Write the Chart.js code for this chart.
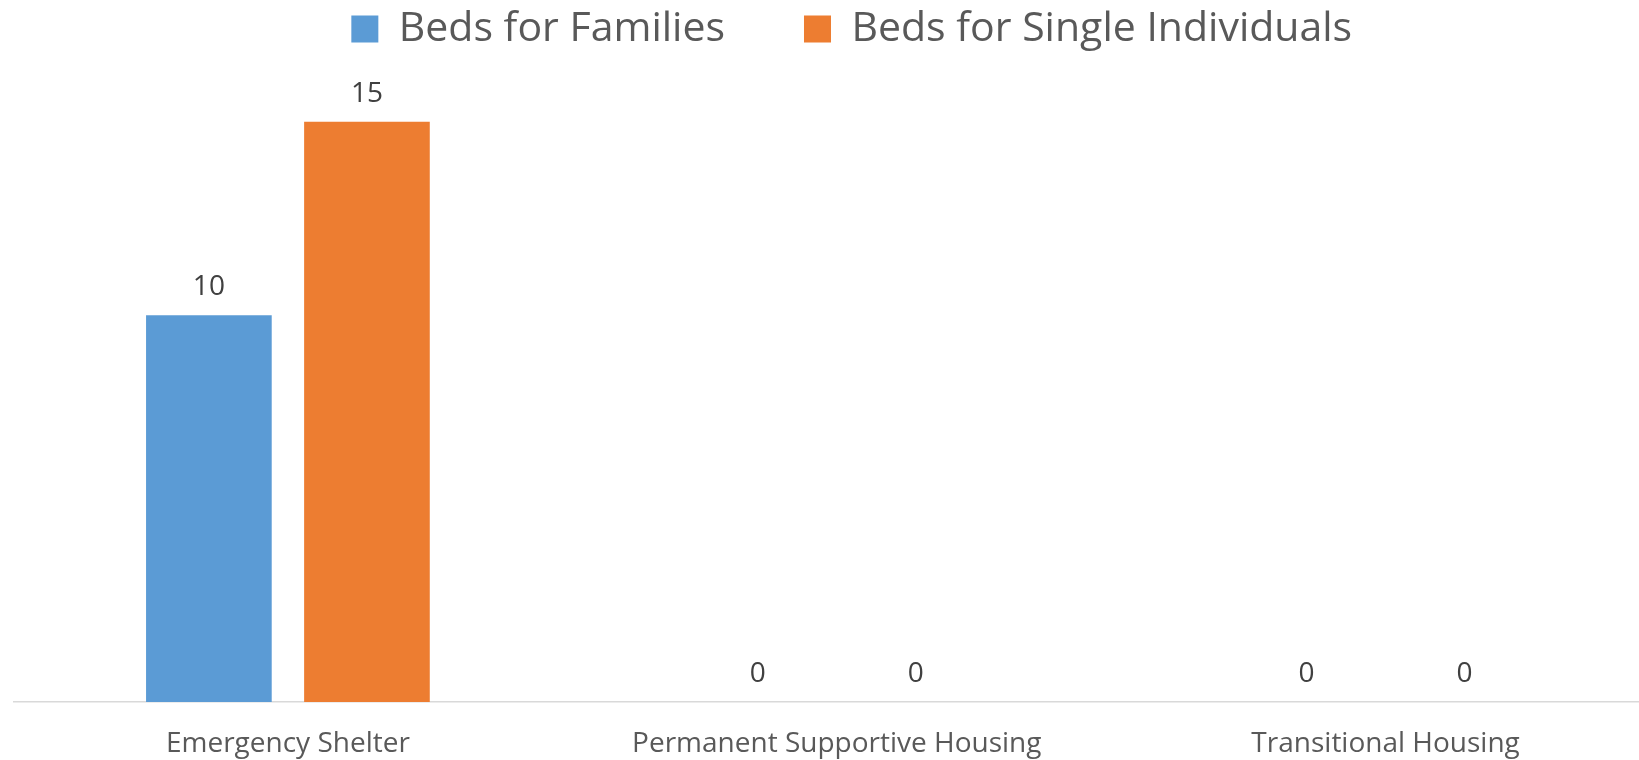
<!DOCTYPE html>
<html>
<head>
<meta charset="utf-8">
<script src="https://cdn.jsdelivr.net/npm/chart.js@4.4.0/dist/chart.umd.min.js"></script>
<style>
  html, body { margin: 0; padding: 0; background: #ffffff; overflow: hidden; width: 1639px; height: 760px; }
  #wrap { position: absolute; left: 0; top: 0; width: 1704px; height: 760px; }
  #c { display: block; }
</style>
</head>
<body>
<div id="wrap"><canvas id="c" width="1704" height="760"></canvas></div>
<script>
const categories = ["Emergency Shelter", "Permanent Supportive Housing", "Transitional Housing"];
const seriesNames = ["Beds for Families", "Beds for Single Individuals"];
const familyBeds = [10, 0, 0];
const singleBeds = [15, 0, 0];

const FONT = "'Open Sans', sans-serif";
const LEGEND_PAD = 79;
const LAYOUT_TOP = -70.5;
const PLOT_TOP = 83;

const valueLabels = {
  id: 'valueLabels',
  afterDatasetsDraw(chart) {
    const ctx = chart.ctx;
    ctx.save();
    ctx.font = "28px " + FONT;
    ctx.fillStyle = "#404040";
    ctx.textAlign = "center";
    ctx.textBaseline = "middle";
    chart.data.datasets.forEach((ds, i) => {
      const meta = chart.getDatasetMeta(i);
      meta.data.forEach((el, j) => {
        ctx.fillText(String(ds.data[j]), el.x, el.y - 28);
      });
    });
    ctx.restore();
  }
};

const legendTweak = {
  id: 'legendTweak',
  beforeInit(chart) {
    const lg = chart.legend;
    const origFit = lg.fit;
    lg.fit = function () {
      origFit.apply(this, arguments);
      this.height = PLOT_TOP - LAYOUT_TOP;
    };
    const origDraw = lg.draw;
    lg.draw = function () {
      const ctx = this.ctx;
      ctx.save();
      ctx.translate(15, 0);
      origDraw.apply(this, arguments);
      ctx.restore();
    };
  }
};

new Chart(document.getElementById('c'), {
  type: 'bar',
  data: {
    labels: categories,
    datasets: [
      { label: seriesNames[0], data: familyBeds, backgroundColor: "#5B9BD5", categoryPercentage: 0.576, barPercentage: 0.795 },
      { label: seriesNames[1], data: singleBeds, backgroundColor: "#ED7D31", categoryPercentage: 0.576, barPercentage: 0.795 }
    ]
  },
  options: {
    responsive: false,
    maintainAspectRatio: false,
    devicePixelRatio: 1,
    animation: false,
    layout: { padding: { left: 13.5, right: 44, top: LAYOUT_TOP, bottom: 0 } },
    plugins: {
      legend: {
        display: true,
        position: 'top',
        labels: {
          boxWidth: 27,
          boxHeight: 27,
          padding: LEGEND_PAD,
          color: "#595959",
          font: { family: FONT, size: 41 }
        }
      },
      tooltip: { enabled: false }
    },
    scales: {
      x: {
        grid: { display: false, drawTicks: false },
        border: { display: true, color: "#d9d9d9", width: 1.5 },
        ticks: { color: "#595959", font: { family: FONT, size: 28 }, padding: 25, maxRotation: 0 },
        afterFit(scale) { scale.height = 58; }
      },
      y: {
        display: false,
        min: 0,
        max: 16
      }
    }
  },
  plugins: [valueLabels, legendTweak]
});
</script>
</body>
</html>
